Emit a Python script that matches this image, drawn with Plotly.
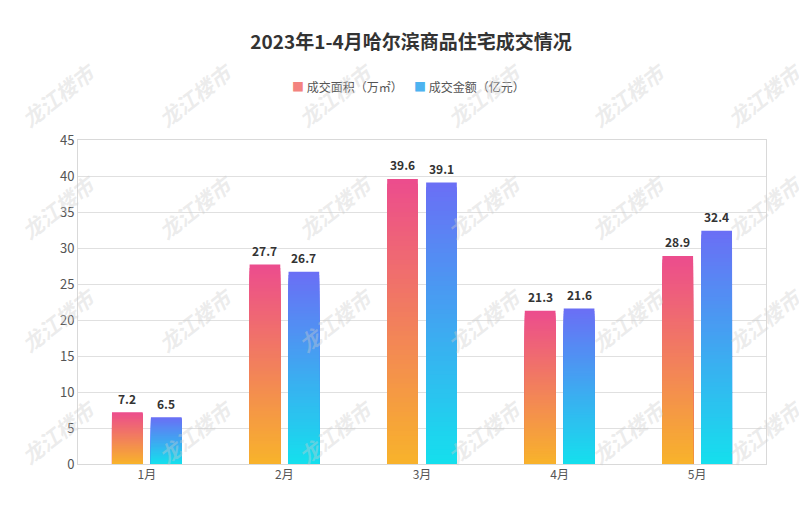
import plotly.graph_objects as go

months = ['1月', '2月', '3月', '4月', '5月']
area = [7.2, 27.7, 39.6, 21.3, 28.9]      # 成交面积（万㎡）
amount = [6.5, 26.7, 39.1, 21.6, 32.4]    # 成交金额（亿元）
series_names = ['成交面积（万㎡）', '成交金额（亿元）']
y_ticks = list(range(0, 50, 5))

FONT = 'Noto Sans CJK SC'
N = 60  # gradient steps
BAR_W = 0.223
CAT_PX = 688 / 5  # pixel width of one category

# page has an 8px body margin, so figure is 8px smaller and shifted
W, H = 799, 515
L, R, T, B = 70, 41, 132, 59


def mix(c1, c2, f):
    return 'rgb(%d,%d,%d)' % tuple(round(a + (b - a) * f) for a, b in zip(c1, c2))


def gradient_bars(fig, values, name, top, bottom, offset):
    for k in range(N):
        f = (N - k) / N
        fig.add_trace(go.Bar(
            x=months, y=[v * f for v in values],
            offset=offset, width=BAR_W,
            marker=dict(color=mix(bottom, top, f), line=dict(width=0)),
            name=name, showlegend=False, hoverinfo='skip',
        ))
    # value labels above each bar
    shift = (offset + BAR_W / 2) * CAT_PX
    return [dict(x=m, y=v, text=f'<b>{v:.1f}</b>', showarrow=False,
                 xshift=shift, yshift=14, yanchor='middle',
                 font=dict(family=FONT, size=12, color='#333333'))
            for m, v in zip(months, values)]


fig = go.Figure()
labels = gradient_bars(fig, area, series_names[0], (236, 77, 141), (248, 180, 42), -0.253)
labels += gradient_bars(fig, amount, series_names[1], (106, 111, 245), (20, 225, 237), 0.03)


def px_x(px):
    return (px - 8 - L) / (W - L - R)


def px_y(py):
    return (H - B - (py - 8)) / (H - T - B)


# 水印
wm = []
for py in [95, 207, 320, 432]:
    for px in [58, 195, 335, 484, 628, 764]:
        wm.append(dict(
            text='<b><i>龙江楼市</i></b>', showarrow=False,
            xref='paper', yref='paper', x=px_x(px), y=px_y(py),
            xanchor='center', yanchor='middle',
            textangle=-38,
            font=dict(family=FONT, size=21, color='rgba(205,205,205,0.38)'),
        ))

# legend drawn as text
legend = [
    dict(text='<span style="color:#f3837f">■</span> ' + series_names[0],
         x=px_x(405), xanchor='right', y=px_y(87)),
    dict(text='<span style="color:#4db3f0">■</span> ' + series_names[1],
         x=px_x(412), xanchor='left', y=px_y(87)),
]
for d in legend:
    d.update(xref='paper', yref='paper', showarrow=False,
             yanchor='middle', font=dict(family=FONT, size=12, color='#555555'))

fig.update_layout(
    width=W, height=H,
    margin=dict(l=L, r=R, t=T, b=B),
    paper_bgcolor='white', plot_bgcolor='white',
    barmode='overlay',
    title=dict(text='<b>2023年1-4月哈尔滨商品住宅成交情况</b>',
               x=px_x(411), xanchor='center', xref='paper',
               y=1 - (42 - 8) / H, yanchor='middle',
               font=dict(family=FONT, size=19, color='#333333')),
    showlegend=False,
    font=dict(family=FONT),
    annotations=labels + legend + wm,
    hovermode=False,
)
fig.update_xaxes(showline=True, linecolor='#d9d9d9', mirror=True,
                 ticks='', tickfont=dict(family=FONT, size=12, color='#555555'))
fig.update_yaxes(range=[0, 45], tickvals=y_ticks, showgrid=True, gridcolor='#e0e0e0',
                 showline=True, linecolor='#d9d9d9', mirror=True, zeroline=False,
                 tickfont=dict(family=FONT, size=13, color='#555555'))

fig.write_html('out.html')
